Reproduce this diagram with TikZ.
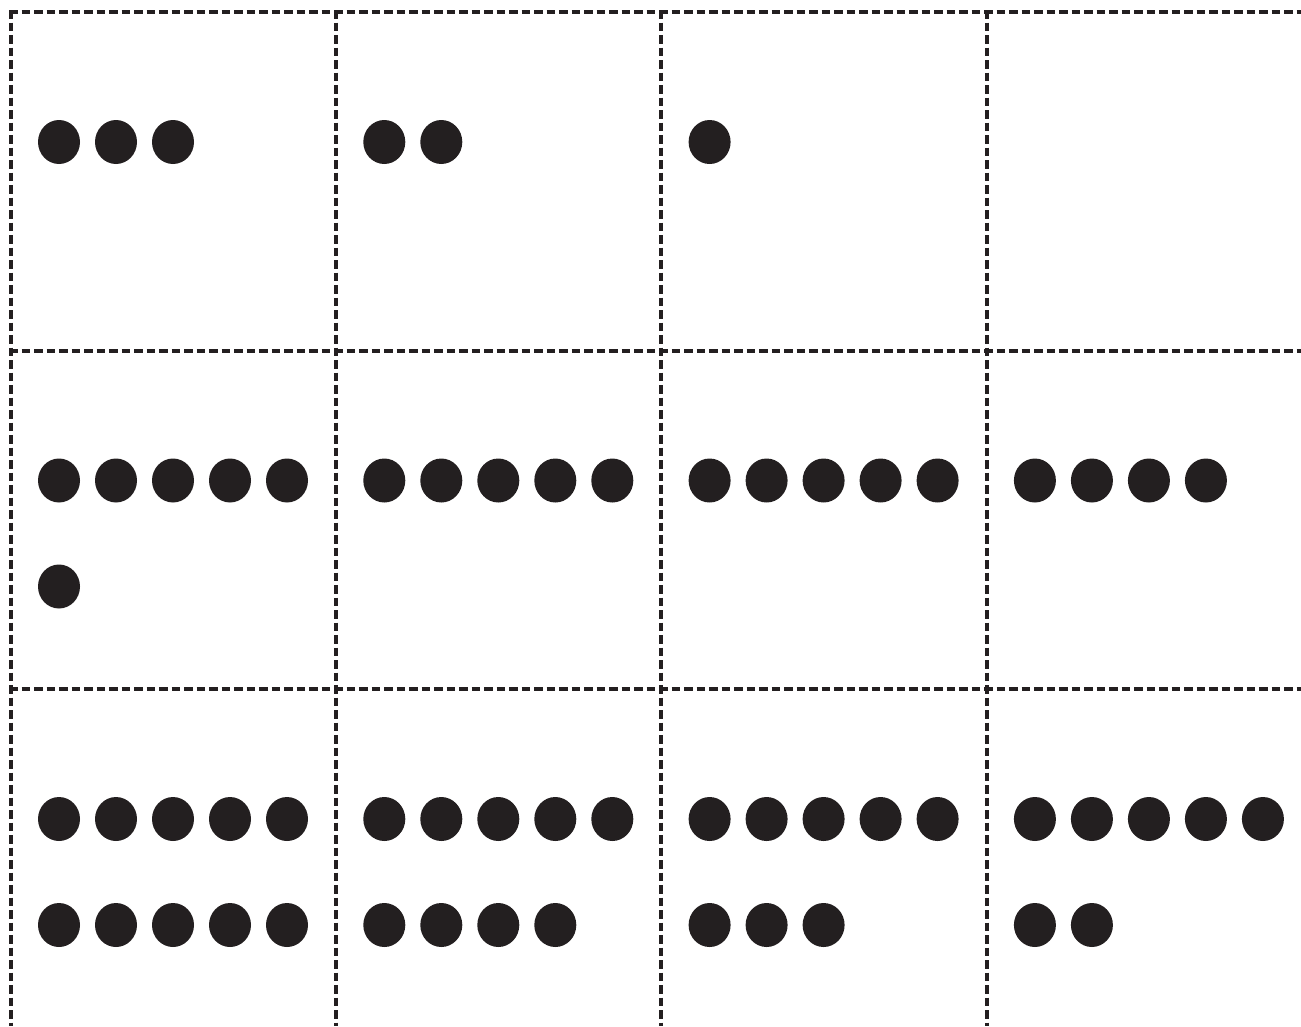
\documentclass[tikz,border=0pt]{standalone}
\usepackage{xcolor}
\usepackage{tikz}
\usetikzlibrary{positioning}
\definecolor{ink}{HTML}{231F20}

\begin{document}
\begin{tikzpicture}[
  x=0.2mm, y=-0.2mm,
  cut/.style={draw=ink, line width=0.7mm, dash pattern=on 1.7mm off 0.8mm},
  dot/.style={fill=ink}
]
\useasboundingbox (0,0) rectangle (1301,1026);
% cutting lines
\foreach \y in {12,351,689} \draw[cut] (9,\y) -- (1301,\y);
\foreach \x in {11,336,661,987} \draw[cut] (\x,10) -- (\x,1026);
% dot cards: row/column/count
\foreach \r/\c/\n in {0/0/3, 0/1/2, 0/2/1,
                      1/0/6, 1/1/5, 1/2/5, 1/3/4,
                      2/0/10, 2/1/9, 2/2/8, 2/3/7} {
  \foreach \k in {1,...,\n} {
    \pgfmathsetmacro\dx{11 + \c*325.3 + 48 + mod(\k-1,5)*57}
    \pgfmathsetmacro\dy{12 + \r*338.5 + 130 + int((\k-1)/5)*106}
    \fill[dot] (\dx,\dy) ellipse [x radius=4.2mm, y radius=4.4mm];
  }
}
\end{tikzpicture}
\end{document}
